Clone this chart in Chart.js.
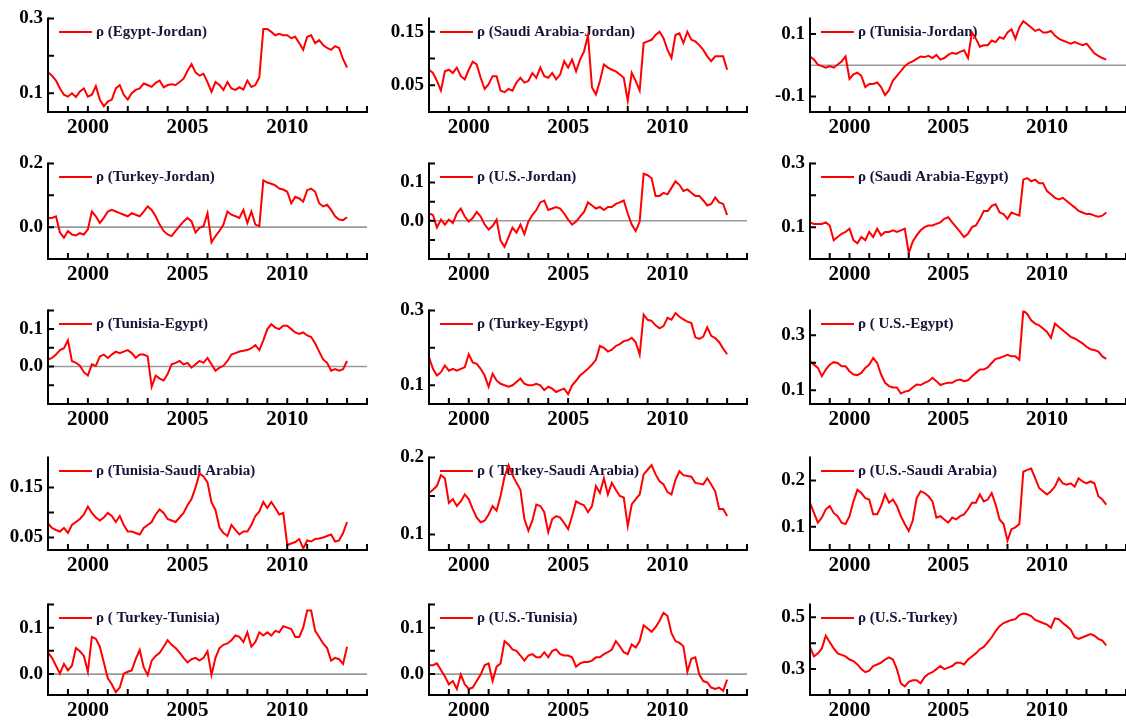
<!DOCTYPE html>
<html>
<head>
<meta charset="utf-8">
<title>Dynamic conditional correlations</title>
<script src="https://cdn.jsdelivr.net/npm/chart.js@4.4.1/dist/chart.umd.min.js"></script>
<style>
  html, body { margin: 0; padding: 0; background: #fff; width: 1126px; height: 723px; overflow: hidden; position: relative; }
  canvas { position: absolute; }
</style>
</head>
<body>
<script>
// ---- data -------------------------------------------------------------
// sampling dates (decimal years)
const years = [
  1998.0, 1998.2, 1998.4, 1998.6, 1998.8, 1999.0, 1999.2, 1999.4, 1999.6, 1999.8,
  2000.0, 2000.2, 2000.4, 2000.6, 2000.8, 2001.0, 2001.2, 2001.4, 2001.6, 2001.8,
  2002.0, 2002.2, 2002.4, 2002.6, 2002.8, 2003.0, 2003.2, 2003.4, 2003.6, 2003.8,
  2004.0, 2004.2, 2004.4, 2004.6, 2004.8, 2005.0, 2005.2, 2005.4, 2005.6, 2005.8,
  2006.0, 2006.2, 2006.4, 2006.6, 2006.8, 2007.0, 2007.2, 2007.4, 2007.6, 2007.8,
  2008.0, 2008.2, 2008.4, 2008.6, 2008.8, 2009.0, 2009.2, 2009.4, 2009.6, 2009.8,
  2010.0, 2010.2, 2010.4, 2010.6, 2010.8, 2011.0, 2011.2, 2011.4, 2011.6, 2011.8,
  2012.0, 2012.2, 2012.4, 2012.6, 2012.8, 2013.0
];

const egyptJordan = [
  0.156, 0.147, 0.134, 0.113, 0.096, 0.091, 0.100, 0.090, 0.105, 0.113,
  0.091, 0.096, 0.119, 0.083, 0.065, 0.078, 0.083, 0.113, 0.122, 0.096,
  0.083, 0.100, 0.109, 0.113, 0.126, 0.122, 0.117, 0.128, 0.134, 0.116,
  0.122, 0.124, 0.122, 0.130, 0.139, 0.160, 0.178, 0.156, 0.147, 0.152,
  0.130, 0.104, 0.130, 0.122, 0.109, 0.130, 0.113, 0.109, 0.116, 0.110,
  0.134, 0.117, 0.122, 0.143, 0.272, 0.272, 0.264, 0.255, 0.259, 0.255,
  0.255, 0.247, 0.251, 0.234, 0.216, 0.251, 0.255, 0.234, 0.242, 0.229,
  0.221, 0.216, 0.226, 0.221, 0.191, 0.169
];
const saudiJordan = [
  0.079, 0.073, 0.058, 0.040, 0.076, 0.079, 0.073, 0.083, 0.067, 0.061,
  0.079, 0.094, 0.089, 0.064, 0.043, 0.052, 0.067, 0.067, 0.040, 0.037,
  0.043, 0.040, 0.055, 0.064, 0.055, 0.058, 0.073, 0.064, 0.083, 0.067,
  0.064, 0.073, 0.061, 0.070, 0.095, 0.083, 0.098, 0.076, 0.098, 0.113,
  0.144, 0.046, 0.033, 0.058, 0.089, 0.083, 0.079, 0.076, 0.070, 0.064,
  0.021, 0.073, 0.058, 0.040, 0.129, 0.132, 0.135, 0.144, 0.150, 0.138,
  0.116, 0.101, 0.144, 0.147, 0.129, 0.150, 0.135, 0.132, 0.125, 0.116,
  0.104, 0.095, 0.104, 0.104, 0.104, 0.079
];
const tunisiaJordan = [
  0.028, 0.018, 0.002, -0.003, -0.008, -0.003, -0.008, 0.002, 0.012, 0.028,
  -0.044, -0.029, -0.024, -0.034, -0.070, -0.060, -0.060, -0.055, -0.070, -0.096,
  -0.080, -0.049, -0.034, -0.019, -0.003, 0.007, 0.012, 0.020, 0.028, 0.026,
  0.030, 0.023, 0.033, 0.018, 0.023, 0.033, 0.040, 0.036, 0.043, 0.048,
  0.023, 0.105, 0.085, 0.059, 0.064, 0.064, 0.079, 0.074, 0.090, 0.085,
  0.105, 0.115, 0.085, 0.121, 0.141, 0.131, 0.121, 0.110, 0.115, 0.105,
  0.105, 0.110, 0.095, 0.085, 0.079, 0.074, 0.069, 0.074, 0.069, 0.064,
  0.069, 0.054, 0.038, 0.030, 0.023, 0.018
];
const turkeyJordan = [
  0.029, 0.029, 0.034, -0.017, -0.033, -0.012, -0.023, -0.026, -0.019, -0.023,
  -0.007, 0.049, 0.034, 0.013, 0.029, 0.049, 0.054, 0.049, 0.044, 0.039,
  0.034, 0.044, 0.039, 0.034, 0.049, 0.065, 0.054, 0.034, 0.008, -0.012,
  -0.023, -0.028, -0.012, 0.003, 0.018, 0.029, 0.018, -0.017, -0.002, 0.003,
  0.044, -0.048, -0.028, -0.012, 0.008, 0.049, 0.039, 0.034, 0.029, 0.054,
  0.013, 0.049, 0.008, 0.003, 0.147, 0.140, 0.136, 0.131, 0.121, 0.118,
  0.111, 0.075, 0.095, 0.090, 0.080, 0.116, 0.121, 0.111, 0.075, 0.065,
  0.070, 0.054, 0.034, 0.024, 0.022, 0.031
];
const usJordan = [
  0.019, 0.015, -0.018, 0.003, -0.010, 0.003, -0.006, 0.019, 0.032, 0.011,
  -0.002, 0.007, 0.023, 0.011, -0.010, -0.023, -0.014, 0.003, -0.052, -0.068,
  -0.043, -0.018, -0.031, -0.010, -0.035, -0.002, 0.015, 0.028, 0.048, 0.053,
  0.028, 0.032, 0.036, 0.032, 0.019, 0.003, -0.010, -0.002, 0.011, 0.023,
  0.048, 0.040, 0.032, 0.036, 0.028, 0.036, 0.036, 0.044, 0.048, 0.053,
  0.019, -0.010, -0.027, -0.002, 0.123, 0.119, 0.111, 0.065, 0.065, 0.073,
  0.069, 0.086, 0.103, 0.094, 0.078, 0.082, 0.073, 0.065, 0.065, 0.053,
  0.040, 0.044, 0.061, 0.048, 0.044, 0.015
];
const saudiEgypt = [
  0.115, 0.110, 0.110, 0.110, 0.115, 0.105, 0.059, 0.069, 0.079, 0.085,
  0.095, 0.059, 0.049, 0.069, 0.059, 0.085, 0.069, 0.095, 0.074, 0.085,
  0.085, 0.090, 0.085, 0.090, 0.095, 0.018, 0.054, 0.074, 0.090, 0.100,
  0.105, 0.105, 0.110, 0.115, 0.126, 0.131, 0.115, 0.100, 0.085, 0.069,
  0.079, 0.100, 0.105, 0.126, 0.151, 0.151, 0.167, 0.172, 0.146, 0.141,
  0.126, 0.146, 0.141, 0.136, 0.249, 0.254, 0.244, 0.249, 0.238, 0.238,
  0.213, 0.203, 0.192, 0.187, 0.192, 0.182, 0.172, 0.162, 0.151, 0.146,
  0.141, 0.141, 0.136, 0.133, 0.136, 0.146
];
const tunisiaEgypt = [
  0.019, 0.023, 0.032, 0.044, 0.049, 0.070, 0.015, 0.010, 0.002, -0.015,
  -0.024, 0.006, 0.002, 0.027, 0.032, 0.023, 0.032, 0.040, 0.036, 0.040,
  0.044, 0.036, 0.023, 0.032, 0.032, 0.027, -0.054, -0.024, -0.032, -0.037,
  -0.020, 0.006, 0.010, 0.015, 0.006, 0.010, -0.003, 0.006, 0.015, 0.010,
  0.023, 0.006, -0.011, -0.003, 0.002, 0.015, 0.032, 0.036, 0.040, 0.042,
  0.044, 0.049, 0.057, 0.044, 0.070, 0.100, 0.113, 0.104, 0.100, 0.109,
  0.109, 0.100, 0.091, 0.087, 0.091, 0.083, 0.079, 0.062, 0.040, 0.019,
  0.010, -0.011, -0.007, -0.011, -0.007, 0.015
];
const turkeyEgypt = [
  0.175, 0.144, 0.126, 0.135, 0.153, 0.139, 0.144, 0.139, 0.144, 0.148,
  0.183, 0.161, 0.157, 0.144, 0.126, 0.096, 0.131, 0.113, 0.104, 0.100,
  0.096, 0.100, 0.109, 0.118, 0.104, 0.100, 0.100, 0.104, 0.100, 0.087,
  0.096, 0.091, 0.082, 0.087, 0.091, 0.076, 0.100, 0.112, 0.126, 0.135,
  0.144, 0.155, 0.168, 0.205, 0.200, 0.190, 0.195, 0.205, 0.210, 0.218,
  0.220, 0.227, 0.215, 0.182, 0.289, 0.275, 0.272, 0.260, 0.252, 0.258,
  0.280, 0.275, 0.293, 0.283, 0.276, 0.270, 0.266, 0.228, 0.224, 0.230,
  0.255, 0.232, 0.226, 0.215, 0.198, 0.183
];
const usEgypt = [
  0.205, 0.193, 0.181, 0.151, 0.175, 0.193, 0.202, 0.199, 0.187, 0.187,
  0.169, 0.157, 0.155, 0.163, 0.181, 0.193, 0.217, 0.199, 0.157, 0.127,
  0.115, 0.110, 0.110, 0.088, 0.095, 0.098, 0.110, 0.121, 0.119, 0.127,
  0.133, 0.145, 0.133, 0.119, 0.124, 0.127, 0.127, 0.136, 0.139, 0.133,
  0.136, 0.151, 0.163, 0.175, 0.175, 0.183, 0.199, 0.214, 0.217, 0.223,
  0.229, 0.223, 0.223, 0.211, 0.389, 0.377, 0.354, 0.342, 0.336, 0.324,
  0.312, 0.290, 0.342, 0.330, 0.318, 0.306, 0.294, 0.288, 0.279, 0.270,
  0.258, 0.249, 0.246, 0.240, 0.223, 0.214
];
const tunisiaSaudi = [
  0.078, 0.069, 0.065, 0.062, 0.069, 0.059, 0.075, 0.081, 0.087, 0.096,
  0.112, 0.099, 0.090, 0.084, 0.090, 0.099, 0.093, 0.081, 0.093, 0.075,
  0.062, 0.062, 0.059, 0.056, 0.069, 0.075, 0.081, 0.096, 0.106, 0.099,
  0.087, 0.084, 0.081, 0.090, 0.099, 0.115, 0.127, 0.150, 0.178, 0.172,
  0.160, 0.120, 0.105, 0.070, 0.059, 0.053, 0.075, 0.065, 0.056, 0.062,
  0.062, 0.075, 0.093, 0.102, 0.121, 0.109, 0.121, 0.109, 0.096, 0.099,
  0.035, 0.038, 0.041, 0.047, 0.028, 0.044, 0.042, 0.047, 0.048, 0.050,
  0.053, 0.056, 0.042, 0.044, 0.059, 0.081
];
const turkeySaudi = [
  0.154, 0.158, 0.163, 0.177, 0.173, 0.141, 0.146, 0.137, 0.143, 0.152,
  0.146, 0.133, 0.122, 0.116, 0.118, 0.126, 0.137, 0.131, 0.150, 0.175,
  0.190, 0.177, 0.167, 0.158, 0.120, 0.105, 0.118, 0.139, 0.137, 0.129,
  0.103, 0.120, 0.124, 0.122, 0.115, 0.107, 0.124, 0.143, 0.140, 0.138,
  0.129, 0.137, 0.163, 0.154, 0.173, 0.152, 0.167, 0.158, 0.150, 0.148,
  0.111, 0.139, 0.146, 0.152, 0.178, 0.184, 0.190, 0.178, 0.169, 0.165,
  0.155, 0.152, 0.171, 0.182, 0.177, 0.176, 0.175, 0.167, 0.166, 0.165,
  0.173, 0.165, 0.156, 0.133, 0.133, 0.124
];
const usSaudi = [
  0.152, 0.130, 0.109, 0.120, 0.138, 0.145, 0.130, 0.123, 0.109, 0.106,
  0.123, 0.155, 0.180, 0.173, 0.162, 0.159, 0.127, 0.127, 0.145, 0.170,
  0.152, 0.159, 0.145, 0.123, 0.106, 0.091, 0.113, 0.162, 0.177, 0.173,
  0.166, 0.155, 0.120, 0.123, 0.116, 0.109, 0.120, 0.116, 0.123, 0.127,
  0.138, 0.152, 0.152, 0.170, 0.155, 0.159, 0.173, 0.148, 0.116, 0.106,
  0.070, 0.095, 0.099, 0.106, 0.219, 0.223, 0.226, 0.205, 0.184, 0.177,
  0.170, 0.177, 0.187, 0.205, 0.194, 0.191, 0.194, 0.187, 0.205, 0.198,
  0.194, 0.198, 0.194, 0.166, 0.159, 0.148
];
const turkeyTunisia = [
  0.046, 0.035, 0.018, 0.001, 0.022, 0.008, 0.018, 0.056, 0.049, 0.039,
  0.005, 0.080, 0.076, 0.059, 0.025, -0.009, -0.022, -0.039, -0.029, 0.001,
  0.005, 0.008, 0.032, 0.052, 0.015, -0.002, 0.029, 0.039, 0.046, 0.059,
  0.073, 0.063, 0.056, 0.046, 0.035, 0.025, 0.032, 0.035, 0.029, 0.035,
  0.049, -0.002, 0.035, 0.056, 0.063, 0.066, 0.073, 0.083, 0.080, 0.069,
  0.090, 0.059, 0.069, 0.090, 0.083, 0.090, 0.083, 0.093, 0.090, 0.103,
  0.100, 0.097, 0.080, 0.080, 0.100, 0.137, 0.137, 0.093, 0.080, 0.066,
  0.056, 0.029, 0.035, 0.032, 0.022, 0.059
];
const usTunisia = [
  0.019, 0.019, 0.023, 0.009, -0.005, -0.022, -0.015, -0.032, -0.001, -0.022,
  -0.032, -0.029, -0.015, -0.001, 0.019, 0.023, -0.015, 0.016, 0.023, 0.071,
  0.064, 0.053, 0.050, 0.040, 0.029, 0.040, 0.043, 0.036, 0.036, 0.047,
  0.036, 0.050, 0.053, 0.043, 0.040, 0.040, 0.036, 0.016, 0.023, 0.026,
  0.026, 0.029, 0.036, 0.036, 0.043, 0.047, 0.053, 0.071, 0.060, 0.047,
  0.043, 0.064, 0.057, 0.071, 0.105, 0.098, 0.091, 0.101, 0.115, 0.132,
  0.125, 0.088, 0.071, 0.067, 0.060, 0.005, 0.033, 0.036, -0.001, -0.015,
  -0.018, -0.029, -0.032, -0.029, -0.036, -0.012
];
const usTurkey = [
  0.386, 0.349, 0.361, 0.380, 0.429, 0.404, 0.380, 0.361, 0.355, 0.349,
  0.337, 0.331, 0.318, 0.300, 0.288, 0.294, 0.312, 0.318, 0.325, 0.337,
  0.345, 0.337, 0.300, 0.245, 0.233, 0.251, 0.257, 0.257, 0.245, 0.269,
  0.282, 0.288, 0.300, 0.312, 0.300, 0.306, 0.312, 0.325, 0.325, 0.318,
  0.337, 0.349, 0.361, 0.377, 0.386, 0.404, 0.423, 0.447, 0.466, 0.478,
  0.484, 0.490, 0.493, 0.509, 0.515, 0.512, 0.505, 0.490, 0.484, 0.478,
  0.472, 0.460, 0.496, 0.493, 0.478, 0.466, 0.453, 0.423, 0.417, 0.423,
  0.429, 0.435, 0.429, 0.417, 0.410, 0.392
];

// legend text of every panel (row by row)
const panelTitles = [
  'ρ (Egypt-Jordan)', 'ρ (Saudi Arabia-Jordan)', 'ρ (Tunisia-Jordan)',
  'ρ (Turkey-Jordan)', 'ρ (U.S.-Jordan)', 'ρ (Saudi Arabia-Egypt)',
  'ρ (Tunisia-Egypt)', 'ρ (Turkey-Egypt)', 'ρ ( U.S.-Egypt)',
  'ρ (Tunisia-Saudi Arabia)', 'ρ ( Turkey-Saudi Arabia)', 'ρ (U.S.-Saudi Arabia)',
  'ρ ( Turkey-Tunisia)', 'ρ (U.S.-Tunisia)', 'ρ (U.S.-Turkey)'
];
const panelSeries = [
  egyptJordan, saudiJordan, tunisiaJordan,
  turkeyJordan, usJordan, saudiEgypt,
  tunisiaEgypt, turkeyEgypt, usEgypt,
  tunisiaSaudi, turkeySaudi, usSaudi,
  turkeyTunisia, usTunisia, usTurkey
];

// value axis extent of each panel
const yMin = [0.05, 0.0, -0.15, -0.1, -0.1, 0.0, -0.1, 0.05, 0.05, 0.025, 0.08, 0.05, -0.045, -0.045, 0.2];
const yMax = [0.3, 0.175, 0.15, 0.2, 0.15, 0.3, 0.15, 0.3, 0.39, 0.21, 0.2, 0.25, 0.15, 0.15, 0.55];

// value axis ticks and their labels ('' = tick mark only)
const yTickValues = [
  [0.1, 0.2, 0.3], [0.05, 0.10, 0.15], [-0.1, 0.1],
  [0.0, 0.1, 0.2], [-0.05, 0.0, 0.05, 0.1, 0.15], [0.1, 0.2, 0.3],
  [-0.05, 0.0, 0.05, 0.1, 0.15], [0.1, 0.2, 0.3], [0.1, 0.2, 0.3],
  [0.05, 0.10, 0.15], [0.1, 0.15, 0.2], [0.1, 0.2],
  [0.0, 0.05, 0.1, 0.15], [0.0, 0.05, 0.1, 0.15], [0.3, 0.4, 0.5]
];
const yTickLabels = [
  ['0.1', '', '0.3'], ['0.05', '', '0.15'], ['-0.1', '0.1'],
  ['0.0', '', '0.2'], ['', '0.0', '', '0.1', ''], ['0.1', '', '0.3'],
  ['', '0.0', '', '0.1', ''], ['0.1', '', '0.3'], ['0.1', '', '0.3'],
  ['0.05', '', '0.15'], ['0.1', '', '0.2'], ['0.1', '0.2'],
  ['0.0', '', '0.1', ''], ['0.0', '', '0.1', ''], ['0.3', '', '0.5']
];

// time axis ticks (one per year) and the labelled ones
const xTickValues = [1999, 2000, 2001, 2002, 2003, 2004, 2005, 2006, 2007, 2008, 2009, 2010, 2011, 2012, 2013, 2014];
const xTickLabels = ['', '2000', '', '', '', '', '2005', '', '', '', '', '2010', '', '', '', ''];

// ---- layout -----------------------------------------------------------
const COL_LEFT = [48, 429, 810];
const COL_RIGHT = [367, 747, 1126];
const ROW_TOP = [16, 161, 308, 455, 602];
const ROW_BOTTOM = [112, 259, 404, 550, 695];
const Y_W = 48, PAD_T = 14, PAD_R = 12, X_H = 32;
const SERIF = '"Liberation Serif", "Times New Roman", serif';

// zero line, legend, and the open L-shaped frame with inward ticks
const framePlugin = {
  id: 'frame',
  beforeDatasetsDraw(chart) {
    const { ctx, chartArea: a, scales: { y } } = chart;
    ctx.save();
    if (y.min < 0 && y.max > 0) {
      const y0 = y.getPixelForValue(0);
      ctx.strokeStyle = '#9a9a9a';
      ctx.lineWidth = 1.6;
      ctx.beginPath();
      ctx.moveTo(a.left, y0);
      ctx.lineTo(a.right, y0);
      ctx.stroke();
    }
    const ds = chart.data.datasets[0];
    const ly = a.top + 13.5;
    ctx.strokeStyle = ds.borderColor;
    ctx.lineWidth = 2;
    ctx.beginPath();
    ctx.moveTo(a.left + 11, ly);
    ctx.lineTo(a.left + 44, ly);
    ctx.stroke();
    ctx.font = 'bold 15px ' + SERIF;
    ctx.fillStyle = '#141438';
    ctx.textBaseline = 'middle';
    ctx.textAlign = 'left';
    ctx.fillText(ds.label, a.left + 48, ly + 0.5);
    ctx.restore();
  },
  afterDatasetsDraw(chart) {
    const { ctx, chartArea: a, scales: { x, y } } = chart;
    ctx.save();
    ctx.strokeStyle = '#000';
    ctx.lineWidth = 2;
    ctx.lineCap = 'square';
    ctx.beginPath();
    ctx.moveTo(a.left, a.top);
    ctx.lineTo(a.left, a.bottom);
    ctx.lineTo(a.right, a.bottom);
    ctx.stroke();
    ctx.lineCap = 'butt';
    ctx.beginPath();
    x.ticks.forEach(t => {
      const px = x.getPixelForValue(t.value);
      ctx.moveTo(px, a.bottom);
      ctx.lineTo(px, a.bottom - 6);
    });
    y.ticks.forEach(t => {
      const py = y.getPixelForValue(t.value);
      ctx.moveTo(a.left, py);
      ctx.lineTo(a.left + 6, py);
    });
    ctx.stroke();
    ctx.restore();
  }
};

panelSeries.forEach((vals, i) => {
  const r = Math.floor(i / 3), c = i % 3;
  const left = COL_LEFT[c], right = COL_RIGHT[c];
  const top = ROW_TOP[r], bottom = ROW_BOTTOM[r];
  const w = right - left + Y_W + PAD_R;
  const h = bottom - top + PAD_T + X_H;
  const cv = document.createElement('canvas');
  cv.width = w;
  cv.height = h;
  cv.style.left = (left - Y_W) + 'px';
  cv.style.top = (top - PAD_T) + 'px';
  cv.style.width = w + 'px';
  cv.style.height = h + 'px';
  document.body.appendChild(cv);

  new Chart(cv, {
    type: 'line',
    data: {
      datasets: [{
        label: panelTitles[i],
        data: years.map((yr, k) => ({ x: yr, y: vals[k] })),
        borderColor: '#ff0000',
        borderWidth: 2,
        pointRadius: 0,
        tension: 0,
        fill: false
      }]
    },
    options: {
      responsive: false,
      animation: false,
      devicePixelRatio: 1,
      events: [],
      layout: { padding: { top: PAD_T, right: PAD_R, left: 0, bottom: 0 } },
      plugins: { legend: { display: false }, tooltip: { enabled: false } },
      scales: {
        x: {
          type: 'linear',
          min: 1998,
          max: 2014,
          afterBuildTicks: s => { s.ticks = xTickValues.map(v => ({ value: v })); },
          afterFit: s => { s.height = X_H; },
          grid: { display: false, drawTicks: false },
          border: { display: false },
          ticks: {
            autoSkip: false,
            maxRotation: 0,
            padding: 3,
            color: '#000',
            font: { family: SERIF, size: 21, weight: 'bold' },
            callback: (v, k) => xTickLabels[k]
          }
        },
        y: {
          type: 'linear',
          min: yMin[i],
          max: yMax[i],
          afterBuildTicks: s => { s.ticks = yTickValues[i].map(v => ({ value: v })); },
          afterFit: s => { s.width = Y_W; },
          grid: { display: false, drawTicks: false },
          border: { display: false },
          ticks: {
            autoSkip: false,
            padding: 5,
            color: '#000',
            font: { family: SERIF, size: 19, weight: 'bold' },
            callback: (v, k) => yTickLabels[i][k]
          }
        }
      }
    },
    plugins: [framePlugin]
  });
});
</script>
</body>
</html>
